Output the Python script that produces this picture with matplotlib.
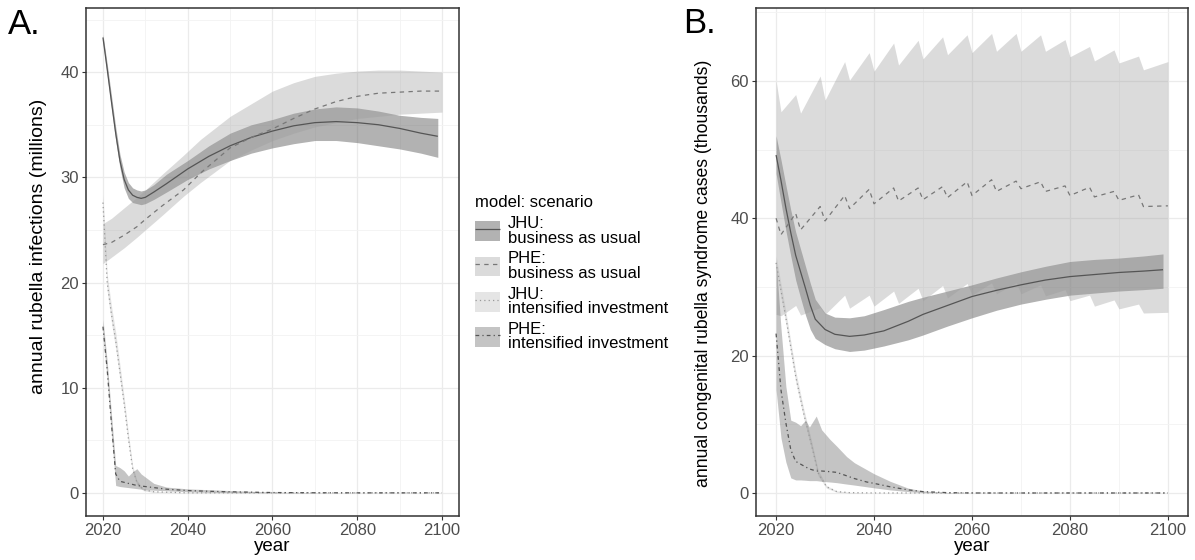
import numpy as np
import matplotlib
matplotlib.use("Agg")
import matplotlib.pyplot as plt
from matplotlib.patches import Patch
from matplotlib.lines import Line2D

plt.rcParams['font.family'] = ['Liberation Sans', 'DejaVu Sans']

# ---------------- panel A: annual rubella infections (millions) ----------------
a_jhu_bau_yr = [2020, 2021, 2022, 2023, 2024, 2025, 2026, 2027, 2028, 2029, 2030, 2032, 2035,
                2040, 2045, 2050, 2055, 2060, 2065, 2070, 2075, 2080, 2085, 2090, 2095, 2099]
a_jhu_bau_mid = [43.3, 40.3, 37.2, 34.2, 31.6, 29.8, 28.8, 28.3, 28.1, 28.0, 28.1, 28.6, 29.4,
                 30.8, 32.0, 33.0, 33.8, 34.4, 34.9, 35.2, 35.3, 35.2, 35.0, 34.65, 34.2, 33.9]
a_jhu_bau_lo = [42.8, 39.7, 36.6, 33.5, 30.9, 29.0, 28.0, 27.6, 27.5, 27.4, 27.5, 27.9, 28.6,
                29.8, 30.8, 31.6, 32.3, 32.8, 33.2, 33.5, 33.5, 33.3, 33.0, 32.7, 32.3, 31.9]
a_jhu_bau_hi = [43.6, 40.8, 37.8, 34.8, 32.2, 30.5, 29.5, 29.0, 28.8, 28.7, 28.8, 29.3, 30.3,
                31.6, 33.0, 34.2, 35.0, 35.5, 36.1, 36.5, 36.7, 36.6, 36.3, 35.9, 35.7, 35.6]

a_phe_bau_yr = [2020, 2022, 2025, 2028, 2030, 2034, 2039, 2043, 2050, 2055, 2060, 2065, 2070,
                2075, 2080, 2085, 2090, 2095, 2100]
a_phe_bau_mid = [23.6, 23.8, 24.5, 25.3, 26.0, 27.3, 28.8, 30.4, 32.8, 33.8, 34.6, 35.6, 36.5,
                 37.2, 37.7, 38.0, 38.1, 38.2, 38.2]
a_phe_bau_lo = [21.8, 22.4, 23.3, 24.3, 25.0, 26.4, 28.2, 29.5, 31.6, 32.6, 33.5, 34.2, 34.8,
                35.2, 35.6, 35.8, 36.0, 36.1, 36.2]
a_phe_bau_hi = [25.6, 26.1, 27.1, 28.1, 28.8, 30.3, 32.1, 33.6, 35.8, 37.0, 38.2, 39.0, 39.6,
                39.9, 40.1, 40.2, 40.2, 40.1, 40.0]

a_jhu_int_yr = [2020, 2021, 2022, 2023, 2024, 2025, 2026, 2027, 2028, 2029.5, 2032, 2040, 2100]
a_jhu_int_mid = [27.6, 20.0, 17.0, 14.5, 11.5, 8.5, 5.2, 2.3, 1.0, 0.3, 0.1, 0.0, 0.0]
a_jhu_int_lo = [26.8, 19.2, 16.2, 13.7, 10.8, 7.9, 4.7, 2.0, 0.8, 0.2, 0.05, 0.0, 0.0]
a_jhu_int_hi = [28.4, 20.8, 17.8, 15.3, 12.2, 9.1, 5.7, 2.6, 1.2, 0.4, 0.15, 0.02, 0.0]

a_phe_int_yr = [2020, 2021, 2022, 2023, 2024, 2025, 2026, 2027, 2028, 2029, 2030, 2032, 2035,
                2040, 2045, 2050, 2060, 2070, 2080, 2090, 2100]
a_phe_int_mid = [15.8, 11.7, 6.6, 1.8, 1.1, 1.0, 0.9, 0.8, 0.7, 0.65, 0.6, 0.5, 0.35,
                 0.22, 0.15, 0.1, 0.03, 0.01, 0.0, 0.0, 0.0]
a_phe_int_lo = [15.0, 10.8, 5.6, 0.7, 0.6, 0.55, 0.5, 0.45, 0.4, 0.35, 0.3, 0.25, 0.2,
                0.1, 0.05, 0.02, 0.0, 0.0, 0.0, 0.0, 0.0]
a_phe_int_hi = [16.5, 12.5, 7.5, 2.6, 2.4, 2.1, 1.6, 2.0, 2.3, 1.8, 1.5, 0.9, 0.55,
                0.38, 0.3, 0.22, 0.08, 0.02, 0.0, 0.0, 0.0]

# ---------------- panel B: annual CRS cases (thousands) ----------------
b_jhu_bau_yr = [2020, 2021, 2022, 2023, 2024, 2025, 2026, 2027, 2028, 2030, 2032, 2035, 2038,
                2042, 2047, 2050, 2055, 2060, 2065, 2070, 2075, 2080, 2085, 2090, 2095, 2099]
b_jhu_bau_mid = [49.2, 45.5, 41.5, 37.9, 34.6, 32.2, 29.8, 27.3, 25.3, 23.8, 23.1, 22.8, 23.0,
                 23.6, 25.0, 26.0, 27.3, 28.6, 29.5, 30.3, 31.0, 31.5, 31.8, 32.1, 32.3, 32.5]
b_jhu_bau_lo = [46.5, 42.3, 38.2, 34.5, 31.0, 28.4, 25.9, 23.8, 22.5, 21.6, 21.0, 20.6, 20.8,
                21.4, 22.3, 23.0, 24.3, 25.5, 26.6, 27.5, 28.2, 28.8, 29.1, 29.4, 29.6, 29.8]
b_jhu_bau_hi = [52.0, 48.5, 44.8, 41.2, 38.0, 35.5, 33.0, 30.5, 28.2, 26.2, 25.6, 25.5, 25.8,
                26.7, 27.9, 28.5, 29.4, 30.3, 31.3, 32.2, 33.0, 33.7, 34.0, 34.2, 34.5, 34.8]

b_phe_bau_yr = [2020, 2021, 2024, 2025, 2029, 2030, 2034, 2035, 2039, 2040, 2044, 2045, 2049,
                2050, 2054, 2055, 2059, 2060, 2064, 2065, 2069, 2070, 2074, 2075, 2079, 2080,
                2084, 2085, 2089, 2090, 2094, 2095, 2100]
b_phe_bau_mid = [40.0, 37.6, 40.7, 38.3, 41.7, 39.6, 43.3, 41.4, 44.2, 42.1, 44.4, 42.5, 44.4,
                 42.7, 44.6, 43.0, 45.3, 43.3, 45.6, 43.9, 45.4, 44.3, 45.3, 43.9, 44.7, 43.3,
                 44.5, 43.1, 43.9, 42.6, 43.4, 41.7, 41.8]
b_phe_bau_lo = [26.0, 25.8, 27.3, 25.9, 27.0, 26.0, 28.8, 26.9, 28.8, 27.2, 29.4, 27.6, 29.8,
                28.0, 30.2, 28.4, 30.5, 28.8, 30.6, 29.0, 30.6, 29.0, 30.3, 28.7, 29.6, 28.0,
                28.8, 27.2, 28.1, 26.8, 27.5, 26.2, 26.3]
b_phe_bau_hi = [60.0, 55.5, 58.0, 55.3, 60.7, 57.2, 62.8, 60.1, 64.1, 61.4, 65.5, 62.3, 65.9,
                63.2, 66.4, 63.8, 66.7, 64.1, 66.9, 64.3, 66.9, 64.3, 66.7, 64.3, 66.0, 63.5,
                65.0, 62.9, 64.5, 62.6, 63.6, 61.6, 62.8]

b_jhu_int_yr = [2020, 2022, 2024, 2025.6, 2027.3, 2028.6, 2030.3, 2032.4, 2035, 2040, 2100]
b_jhu_int_mid = [33.5, 25.5, 17.0, 11.7, 6.8, 2.9, 0.9, 0.2, 0.05, 0.0, 0.0]
b_jhu_int_lo = [32.5, 24.6, 16.2, 11.0, 6.2, 2.5, 0.7, 0.1, 0.0, 0.0, 0.0]
b_jhu_int_hi = [34.5, 26.4, 17.8, 12.4, 7.4, 3.3, 1.1, 0.3, 0.1, 0.0, 0.0]

b_phe_int_yr = [2020, 2021, 2022, 2023, 2024, 2025, 2026, 2026.8, 2028.2, 2029.3, 2031, 2032.4,
                2034.4, 2036, 2038.5, 2040, 2043.3, 2047, 2050, 2055, 2060, 2100]
b_phe_int_mid = [23.2, 15.0, 10.2, 6.3, 4.6, 4.2, 3.8, 3.5, 3.2, 3.2, 3.1, 3.0,
                 2.5, 2.1, 1.6, 1.4, 0.9, 0.45, 0.2, 0.05, 0.0, 0.0]
b_phe_int_lo = [15.0, 8.0, 4.5, 2.2, 1.9, 1.9, 1.85, 1.8, 1.8, 1.7, 1.6, 1.5,
                1.3, 1.15, 0.9, 0.75, 0.45, 0.2, 0.05, 0.0, 0.0, 0.0]
b_phe_int_hi = [34.0, 24.0, 15.5, 10.6, 10.3, 9.8, 10.6, 9.6, 11.2, 9.2, 7.8, 6.8,
                5.3, 4.4, 3.4, 2.8, 1.7, 0.7, 0.3, 0.08, 0.0, 0.0]

scenario_labels = ["JHU:\nbusiness as usual", "PHE:\nbusiness as usual",
                   "JHU:\nintensified investment", "PHE:\nintensified investment"]

# fill colour, fill alpha, line colour, dash pattern
styles = [
    ("#555555", 0.45, "#555555", (0, ())),
    ("#999999", 0.35, "#777777", (0, (3.5, 3.5))),
    ("#aaaaaa", 0.30, "#999999", (0, (1, 2.5))),
    ("#666666", 0.38, "#555555", (0, (3, 2.5, 1, 2.5))),
]


def style_axis(ax, xlim, ylim, yticks, yminor):
    ax.set_xlim(*xlim)
    ax.set_ylim(*ylim)
    ax.set_xticks([2020, 2040, 2060, 2080, 2100])
    ax.set_xticks([2030, 2050, 2070, 2090], minor=True)
    ax.set_yticks(yticks)
    ax.set_yticks(yminor, minor=True)
    ax.grid(which="major", color="#ebebeb", lw=0.9)
    ax.grid(which="minor", color="#f3f3f3", lw=0.6)
    ax.set_axisbelow(True)
    ax.tick_params(which="major", direction="out", length=3, width=0.8,
                   color="#333333", labelcolor="#4d4d4d", labelsize=12, pad=2)
    ax.tick_params(which="minor", length=0)
    for s in ax.spines.values():
        s.set_color("#333333")
        s.set_linewidth(1.1)
    ax.set_xlabel("year", fontsize=13.5, labelpad=0)


def draw(ax, series):
    # ribbons first in plotting order, then lines
    for (yr, mid, lo, hi), (fc, al, lc, ls) in zip(series, styles):
        ax.fill_between(yr, lo, hi, color=fc, alpha=al, lw=0)
    for (yr, mid, lo, hi), (fc, al, lc, ls) in zip(series, styles):
        ax.plot(yr, mid, color=lc, lw=0.9, linestyle=ls)


fig = plt.figure(figsize=(11.95, 5.6), dpi=100)
axA = fig.add_axes([86 / 1195, 44 / 560, 373 / 1195, 508 / 560])
axB = fig.add_axes([756 / 1195, 44 / 560, 432 / 1195, 508 / 560])

draw(axA, [(a_jhu_bau_yr, a_jhu_bau_mid, a_jhu_bau_lo, a_jhu_bau_hi),
           (a_phe_bau_yr, a_phe_bau_mid, a_phe_bau_lo, a_phe_bau_hi),
           (a_jhu_int_yr, a_jhu_int_mid, a_jhu_int_lo, a_jhu_int_hi),
           (a_phe_int_yr, a_phe_int_mid, a_phe_int_lo, a_phe_int_hi)])
style_axis(axA, (2016, 2104), (-2.2, 46.1), [0, 10, 20, 30, 40], [5, 15, 25, 35, 45])
axA.set_ylabel("annual rubella infections (millions)", fontsize=14, labelpad=9.5, y=0.53)

draw(axB, [(b_jhu_bau_yr, b_jhu_bau_mid, b_jhu_bau_lo, b_jhu_bau_hi),
           (b_phe_bau_yr, b_phe_bau_mid, b_phe_bau_lo, b_phe_bau_hi),
           (b_jhu_int_yr, b_jhu_int_mid, b_jhu_int_lo, b_jhu_int_hi),
           (b_phe_int_yr, b_phe_int_mid, b_phe_int_lo, b_phe_int_hi)])
style_axis(axB, (2015.9, 2104.1), (-3.35, 70.6), [0, 20, 40, 60], [10, 30, 50, 70])
axB.set_ylabel("annual congenital rubella syndrome cases (thousands)", fontsize=12.7,
               labelpad=13, y=0.478)

fig.text(8 / 1195, 1 - 34 / 560, "A.", fontsize=25, ha="left", va="baseline")
fig.text(683 / 1195, 1 - 33 / 560, "B.", fontsize=25, ha="left", va="baseline")

handles = []
for fc, al, lc, ls in styles:
    handles.append((Patch(facecolor=fc, alpha=al, lw=0),
                    Line2D([], [], color=lc, lw=0.9, linestyle=ls)))
leg = fig.legend(handles, scenario_labels, loc="upper left",
                 bbox_to_anchor=(467 / 1195, 1 - 187 / 560), frameon=False,
                 title="model: scenario", title_fontsize=12, fontsize=12,
                 handlelength=1.45, handleheight=1.45, handletextpad=0.5,
                 labelspacing=0.35, borderpad=0, alignment="left")
for t in leg.get_texts():
    t.set_linespacing(0.95)

fig.savefig("out.png", dpi=100)
